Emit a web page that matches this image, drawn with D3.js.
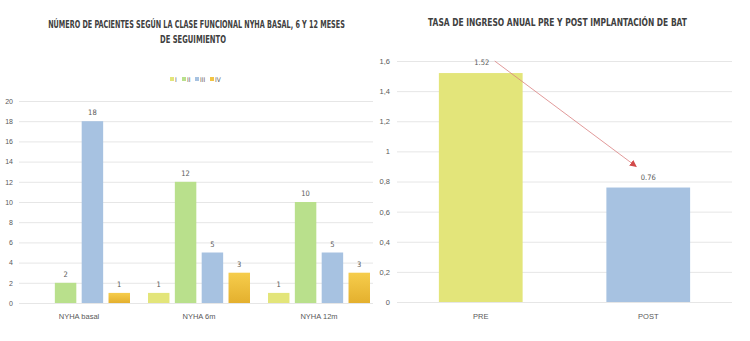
<!DOCTYPE html>
<html><head><meta charset="utf-8">
<script src="https://cdn.jsdelivr.net/npm/d3@7"></script>
<style>
html,body{margin:0;padding:0;background:#fff;}
svg{display:block;font-family:"Liberation Sans Narrow","DejaVu Sans Condensed","Roboto Condensed",sans-serif;}
</style></head>
<body>
<svg id="chart" width="750" height="341"></svg>
<script>
// ---- Data: left chart ----
const nyhaGroups = ["NYHA basal", "NYHA 6m", "NYHA 12m"];
const nyhaClasses = ["I", "II", "III", "IV"];
const classI   = [0, 1, 1];
const classII  = [2, 12, 10];
const classIII = [18, 5, 5];
const classIV  = [1, 3, 3];
const leftTicks = [0, 2, 4, 6, 8, 10, 12, 14, 16, 18, 20];
const leftTitle = ["NÚMERO DE PACIENTES SEGÚN LA CLASE FUNCIONAL NYHA BASAL, 6 Y 12 MESES", "DE SEGUIMIENTO"];

// ---- Data: right chart ----
const periods = ["PRE", "POST"];
const rates = [1.52, 0.76];
const rateLabels = ["1.52", "0.76"];
const rightTicks = [0, 0.2, 0.4, 0.6, 0.8, 1, 1.2, 1.4, 1.6];
const rightTitle = "TASA DE INGRESO ANUAL PRE Y POST IMPLANTACIÓN DE BAT";

const classColors = ["#e3e57a", "#b9e08c", "#a7c2e1", "#f2c443"];
const rateColors = ["#e3e57a", "#a7c2e1"];
const textColor = "#595959";
const gridColor = "#e6e6e6";

const svg = d3.select("#chart");
const defs = svg.append("defs");
const grad = defs.append("linearGradient").attr("id","gold").attr("x1",0).attr("y1",0).attr("x2",0).attr("y2",1);
grad.append("stop").attr("offset","0%").attr("stop-color","#f6cd4c");
grad.append("stop").attr("offset","100%").attr("stop-color","#e4b02e");
defs.append("marker").attr("id","arrow").attr("viewBox","0 0 10 10").attr("refX",9).attr("refY",5)
  .attr("markerWidth",7).attr("markerHeight",7).attr("orient","auto-start-reverse").attr("markerUnits","userSpaceOnUse")
  .append("path").attr("d","M0,0L10,5L0,10z").attr("fill","#d24a4a");

// condensed title: horizontally scaled to a target width
function title(parent, str, cx, y, size, width) {
  const gg = parent.append("g");
  const t = gg.append("text").attr("x", 0).attr("y", 0).attr("text-anchor","middle")
    .attr("font-size", size).attr("font-weight","bold").attr("fill","#404040").text(str);
  const w = t.node().getComputedTextLength();
  gg.attr("transform", `translate(${cx},${y}) scale(${width / w},1)`);
}

// ================= LEFT CHART =================
{
  const series = [classI, classII, classIII, classIV];
  const x0 = d3.scaleBand().domain(nyhaGroups).range([19, 379]).paddingInner(0).paddingOuter(0);
  const x1 = d3.scaleBand().domain(nyhaClasses).range([0, 102]).paddingInner(0.2);
  const y = d3.scaleLinear().domain([0, 20]).range([303, 101]);
  const g = svg.append("g");

  title(g, leftTitle[0], 196.5, 28, 10.5, 297);
  title(g, leftTitle[1], 193, 43, 10.5, 66);

  // legend
  const lg = g.append("g").attr("transform","translate(170,80)");
  const legX = [0, 12, 25, 40];
  nyhaClasses.forEach((c, i) => {
    lg.append("rect").attr("x", legX[i]).attr("y", -3).attr("width", 4).attr("height", 4)
      .attr("fill", i === 3 ? "#f2c443" : classColors[i]);
    lg.append("text").attr("x", legX[i] + 5).attr("y", 1.5).attr("font-size", 6.5)
      .attr("fill", textColor).text(c);
  });

  // grid + y labels
  const yAxis = d3.axisLeft(y).tickValues(leftTicks).tickSize(-354).tickFormat(d3.format("d"));
  const ya = g.append("g").attr("transform","translate(19,0)").call(yAxis);
  ya.select(".domain").remove();
  ya.selectAll(".tick line").attr("stroke", gridColor).attr("stroke-width", 1);
  ya.selectAll(".tick text").attr("x", -6).attr("fill", textColor).attr("font-size", 7)
    .attr("font-family","inherit");

  // bars
  nyhaGroups.forEach((grp, gi) => {
    const gx = x0(grp) + (x0.bandwidth() - 102) / 2;
    series.forEach((vals, si) => {
      const v = vals[gi];
      if (v <= 0) return;
      const bx = gx + x1(nyhaClasses[si]);
      g.append("rect").attr("x", bx).attr("y", y(v)).attr("width", x1.bandwidth())
        .attr("height", y(0) - y(v)).attr("fill", si === 3 ? "url(#gold)" : classColors[si]);
      g.append("text").attr("x", bx + x1.bandwidth() / 2).attr("y", y(v) - 6)
        .attr("text-anchor","middle").attr("font-size", 7.5).attr("fill", textColor).text(v);
    });
  });

  // x labels
  const xAxis = d3.axisBottom(x0).tickSize(0);
  const xa = g.append("g").attr("transform", `translate(0,${y(0)})`).call(xAxis);
  xa.select(".domain").remove();
  xa.selectAll(".tick text").attr("dy", 0).attr("y", 16).attr("fill", textColor)
    .attr("font-size", 7.5).attr("font-family","inherit");
}

// ================= RIGHT CHART =================
{
  const x = d3.scaleBand().domain(periods).range([397, 732]).paddingInner(0.5).paddingOuter(0.25);
  const y = d3.scaleLinear().domain([0, 1.6]).range([302, 61]);
  const g = svg.append("g");

  title(g, rightTitle, 557.5, 26, 11, 259);

  const yAxis = d3.axisLeft(y).tickValues(rightTicks).tickSize(-335)
    .tickFormat(d => d3.format("~g")(d).replace(".", ","));
  const ya = g.append("g").attr("transform","translate(397,0)").call(yAxis);
  ya.select(".domain").remove();
  ya.selectAll(".tick line").attr("stroke", gridColor).attr("stroke-width", 1);
  ya.selectAll(".tick text").attr("x", -7).attr("fill", textColor).attr("font-size", 7.5)
    .attr("font-family","inherit");

  periods.forEach((p, i) => {
    g.append("rect").attr("x", x(p)).attr("y", y(rates[i])).attr("width", x.bandwidth())
      .attr("height", y(0) - y(rates[i])).attr("fill", rateColors[i]);
  });
  // value labels
  g.append("text").attr("x", x(periods[0]) + x.bandwidth() / 2 + 1).attr("y", y(rates[0]) - 8)
    .attr("text-anchor","middle").attr("font-size", 7.5).attr("fill", textColor).text(rateLabels[0]);
  g.append("text").attr("x", x(periods[1]) + x.bandwidth() / 2).attr("y", y(rates[1]) - 8)
    .attr("text-anchor","middle").attr("font-size", 7.5).attr("fill", textColor).text(rateLabels[1]);

  // arrow from PRE label to POST label
  const xs = x(periods[0]) + x.bandwidth() / 2 + 14;
  const xe = x(periods[1]) + x.bandwidth() / 2 - 12;
  g.append("line").attr("x1", xs).attr("y1", y(rates[0]) - 12)
    .attr("x2", xe).attr("y2", y(rates[1]) - 21)
    .attr("stroke", "#d98080").attr("stroke-width", 0.8).attr("marker-end","url(#arrow)");

  const xAxis = d3.axisBottom(x).tickSize(0);
  const xa = g.append("g").attr("transform", `translate(0,${y(0)})`).call(xAxis);
  xa.select(".domain").remove();
  xa.selectAll(".tick text").attr("dy", 0).attr("y", 17).attr("fill", textColor)
    .attr("font-size", 7.5).attr("font-family","inherit");
}
</script>
</body></html>
